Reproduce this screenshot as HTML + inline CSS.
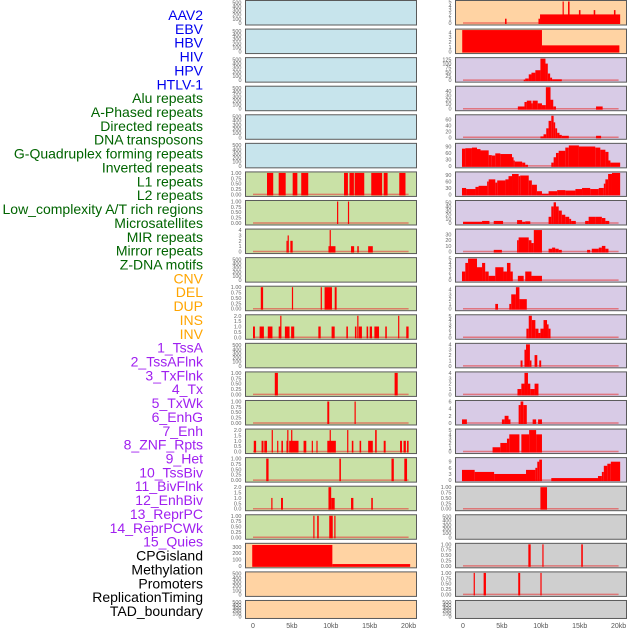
<!DOCTYPE html>
<html><head><meta charset="utf-8">
<style>
html,body{margin:0;padding:0;background:#fff;}
svg{display:block;font-family:"Liberation Sans",sans-serif;}
</style></head>
<body>
<svg id="chart" width="630" height="630" viewBox="0 0 630 630" xmlns="http://www.w3.org/2000/svg"></svg>
<script>
// ---- labels / categories ----
const trackNames = ["AAV2","EBV","HBV","HIV","HPV","HTLV-1","Alu repeats","A-Phased repeats","Directed repeats","DNA transposons","G-Quadruplex forming repeats","Inverted repeats","L1 repeats","L2 repeats","Low_complexity A/T rich regions","Microsatellites","MIR repeats","Mirror repeats","Z-DNA motifs","CNV","DEL","DUP","INS","INV","1_TssA","2_TssAFlnk","3_TxFlnk","4_Tx","5_TxWk","6_EnhG","7_Enh","8_ZNF_Rpts","9_Het","10_TssBiv","11_BivFlnk","12_EnhBiv","13_ReprPC","14_ReprPCWk","15_Quies","CPGisland","Methylation","Promoters","ReplicationTiming","TAD_boundary"];
const trackGroups = ["v","v","v","v","v","v","r","r","r","r","r","r","r","r","r","r","r","r","r","s","s","s","s","s","c","c","c","c","c","c","c","c","c","c","c","c","c","c","c","o","o","o","o","o"];
const xTickValues = [0,5,10,15,20];
const xTickLabels = ["0","5kb","10kb","15kb","20kb"];

// ---- series data (kb start, kb end, value) ----
const aluS=[1.8,3.3,5.1,6.2,11.7,12.4,13.06,15.2,16.8,18.8], aluE=[2.6,4.2,5.7,7.1,12.2,12.97,14.3,16.6,17.3,19.6], aluV=[1,1,1,1,1,1,1,1,1,1];
const aphS=[10.8,12.2], aphE=[10.95,12.35], aphV=[1,1];
const dirS=[4.3,4.45,4.8,9.7,9.85,12.6,13.4,14.8], dirE=[4.45,4.6,5.1,10.6,10.0,13.0,13.6,15.4], dirV=[2,3,2,1,4,1,1,1];
const gqS=[1.0,5.0,8.7,9.2,10.5], gqE=[1.3,5.15,8.8,10.15,10.75], gqV=[1,1,1,1,1];
const invrS=[0,0.85,1.9,3.3,3.5,4.1,4.9,8.4,10.1,12.0,13.1,13.4,13.6,14.6,15.0,15.6,17.0,18.65,19.7], invrE=[0.25,1.4,2.5,3.6,3.65,4.7,5.3,8.7,10.5,12.2,13.3,13.55,14.0,14.8,15.3,16.2,17.2,18.8,20.0], invrV=[1,1,1,1,2,1,1,1,1,1,1,2,1,1,1,1,1,2,1];
const l2S=[2.8,18.2], l2E=[3.2,18.6], l2V=[1,1];
const lowS=[9.55,13.05], lowE=[9.8,13.2], lowV=[1,1];
const micS=[0.1,1.1,1.45,2.4,3.1,3.65,4.3,4.4,4.65,4.9,6.5,7.55,8.15,9.55,9.85,12.1,12.7,13.7,14.8,15.7,16.8,18.9,19.35,19.8], micE=[0.4,1.35,1.8,2.5,3.2,3.85,4.5,4.5,5.85,5.05,6.85,7.7,8.3,10.65,9.95,12.25,12.9,13.9,15.4,15.9,17.05,19.15,19.65,20.0], micV=[1,1,1,2,1,1,1,2,1,2,1,1,1,1,2,2,1,1,1,2,1,1,1,1];
const mirS=[1.7,11.1,17.8,19.45], mirE=[2.0,11.3,18.1,19.8], mirV=[1,1,1,1];
const mrrS=[2.35,3.6,9.7,10.05,12.6,15.2], mrrE=[2.5,3.85,10.05,10.5,12.9,15.4], mrrV=[1,1,2,1,1,1];
const zdS=[7.75,8.25,9.8,10.45], zdE=[7.9,8.45,10.25,10.6], zdV=[1,1,1,1];
const cnvS=[-0.1,10.2], cnvE=[10.2,20.2], cnvV=[330,28];
const insS=[5.4,9.7,9.9,12.8,13.5,14.9,16.8,19.4], insE=[5.6,9.9,20.2,12.95,13.7,15.1,17.0,19.6], insV=[1,1,2,5,5,3,3,3];
const invS=[-0.1,10.15], invE=[10.15,20.1], invV=[4.5,1.3];
const tssaS=[7.8,8.0,8.45,8.8,9.3,9.95,10.6,10.9,11.2,11.45], tssaE=[8.0,8.45,8.8,9.3,9.95,10.6,10.9,11.2,11.45,12.7], tssaV=[3,10,35,45,60,130,100,40,15,5];
const tfS=[7.05,7.9,8.2,8.8,8.95,9.6,10.15,10.65,11.25,11.6,17.1], tfE=[7.9,8.2,8.8,8.95,9.6,10.15,10.65,11.25,11.6,11.95,17.95], tfV=[5,15,18,12,18,12,8,48,20,5,5];
const txfS=[9.95,10.35,10.7,11.0,11.35,11.65,11.85,12.1,12.4,12.7,17.1], txfE=[10.35,10.7,11.0,11.35,11.65,11.85,12.1,12.4,12.7,13.6,17.75], txfV=[3,10,30,55,72,50,30,15,8,5,5];
const txEdges=[-0.13,0.3,1.15,1.8,2.25,3.3,3.7,4.15,4.8,6.3,6.5,6.65,7.6,8.0,8.35,11.35,11.65,11.95,12.3,13.15,13.6,14.9,17.0,17.65,18.3,18.7,18.95,20.2];
const txV=[80,82,85,78,72,50,48,58,55,40,25,20,15,5,0,15,40,60,70,85,95,90,85,75,65,25,15];
const txwEdges=[-0.13,0.4,1.6,2.0,3.1,3.3,4.15,4.4,5.45,5.85,6.3,7.15,7.35,8.45,8.85,9.5,10.15,11.0,12.1,13.15,14.45,15.3,16.35,17.45,18.1,18.3,18.65,19.15,20.2];
const txwV=[30,25,35,40,60,70,55,65,70,85,95,85,88,65,45,15,3,15,20,18,25,30,25,30,50,70,95,100];
const egS=[0,2.45,3.95,6.95,7.6,8.0,11.0,11.35,11.65,11.95,12.3,12.7,13.15,13.65,13.9,15.7,16.15,17.0,17.85,18.3], egE=[2.45,3.4,5.15,7.6,8.0,8.65,11.35,11.65,11.95,12.3,12.7,13.15,13.65,13.9,14.5,16.15,17.0,17.85,18.3,18.8], egV=[3,5,5,7,3,4,15,40,50,40,30,20,15,10,5,5,15,15,12,5];
const enS=[3.95,6.95,7.15,8.45,8.8,9.1,11.0,11.45,11.85,12.3,15.95,16.55,17.45,17.85,18.3], enE=[5.0,7.15,8.45,8.8,9.1,10.15,11.45,11.85,12.3,12.7,16.35,17.45,17.85,18.3,18.7], enV=[3,20,25,20,15,38,5,7,5,3,3,5,7,10,5];
const znS=[-0.13,0.3,0.65,1.8,2.45,2.85,3.3,4.15,5.2,5.65,6.1,7.05,8.0,8.8], znE=[0.3,0.65,1.8,2.45,2.85,3.3,4.15,5.2,5.65,6.1,6.4,7.8,8.8,10.15], znV=[2,4,5,3,4,2,1,3,2,4,2,1,2,1];
const hetS=[4.15,5.95,6.2,6.8,7.25], hetE=[4.5,6.2,6.8,7.25,8.2], hetV=[1,1,3,4.5,2];
const tbS=[8.15,8.45,8.85,9.3,9.7,9.95,10.35,10.8,11.0], tbE=[8.45,8.85,9.3,9.7,9.95,10.35,10.8,11.0,11.25], tbV=[2,5,4,2,1,2,4,3,2];
const bfS=[7.4,7.9,8.1,8.6,9.2,9.8], bfE=[7.65,8.1,8.6,8.8,9.55,10.05], bfV=[1,3,4,1,2,1];
const ebS=[7.0,7.5,7.9,8.35,8.65,9.2], ebE=[7.5,7.9,8.35,8.65,9.2,9.7], ebV=[1,2,4,2,1,2];
const rpS=[-0.13,5.0,5.35,5.85,7.15,7.4,7.75,8.95,9.65], rpE=[0.5,5.35,5.85,6.1,7.4,7.75,8.2,9.4,10.15], rpV=[1,1,2,1,5,6,5,1,1];
const rwS=[3.8,4.8,5.65,5.95,7.5,8.5,9.4], rwE=[4.8,5.65,5.95,7.25,8.5,9.4,10.15], rwV=[1,2,3,4,4,5,4];
const qS=[-0.13,1.5,4.0,8.1,9.3,9.55,9.8,11.35,17.35,17.85,18.1,18.55,19.0], qE=[1.5,4.0,8.1,9.3,9.55,9.8,10.15,17.35,17.85,18.1,18.55,19.0,20.2], qV=[5,4,3,5,6,9,10,1,2,4,7,8,9];
const cpgS=[9.95], cpgE=[10.8], cpgV=[1];
const proS=[8.4,10.2,15.2], proE=[8.7,10.35,15.4], proV=[1,1,1];
const repS=[1.37,2.65,7.1,9.95], repE=[1.5,2.95,7.35,10.1], repV=[1,1,1,1];

// tick sets
const tEmpty=[0,100,200,300,400,500], t01=[0,0.25,0.5,0.75,1], t2=[0,0.5,1,1.5,2];
function edgesToSeg(ed,v){const s=[],e=[];for(let i=0;i<v.length;i++){s.push(ed[i]);e.push(ed[i+1]);}return [s,e,v];}

// panel specs: [ymax, ticks, tickLabels-format, segments or null]
const fmt2 = v=>v.toFixed(2), fmt1=v=>v.toFixed(1), fmt0=v=>String(v);
const panels = [
 [520,tEmpty,fmt0,null],[520,tEmpty,fmt0,null],[520,tEmpty,fmt0,null],[520,tEmpty,fmt0,null],[520,tEmpty,fmt0,null],[520,tEmpty,fmt0,null],
 [1,t01,fmt2,[aluS,aluE,aluV]],[1,t01,fmt2,[aphS,aphE,aphV]],[4,[0,1,2,3,4],fmt0,[dirS,dirE,dirV]],[520,tEmpty,fmt0,null],
 [1,t01,fmt2,[gqS,gqE,gqV]],[2,t2,fmt1,[invrS,invrE,invrV]],[520,tEmpty,fmt0,null],[1,t01,fmt2,[l2S,l2E,l2V]],
 [1,t01,fmt2,[lowS,lowE,lowV]],[2,t2,fmt1,[micS,micE,micV]],[1,t01,fmt2,[mirS,mirE,mirV]],[2,t2,fmt1,[mrrS,mrrE,mrrV]],
 [1,t01,fmt2,[zdS,zdE,zdV]],[340,[0,100,200,300],fmt0,[cnvS,cnvE,cnvV]],[520,tEmpty,fmt0,null],[520,tEmpty,fmt0,null],
 [5,[0,1,2,3,4,5],fmt0,[insS,insE,insV]],[4.5,[0,1,2,3,4],fmt0,[invS,invE,invV]],
 [130,[0,25,50,75,100,125],fmt0,[tssaS,tssaE,tssaV]],[48,[0,10,20,30,40],fmt0,[tfS,tfE,tfV]],
 [72,[0,20,40,60],fmt0,[txfS,txfE,txfV]],[100,[0,30,60,90],fmt0,edgesToSeg(txEdges,txV)],
 [100,[0,30,60,90],fmt0,edgesToSeg(txwEdges,txwV)],[52,[0,10,20,30,40,50],fmt0,[egS,egE,egV]],
 [38,[0,10,20,30],fmt0,[enS,enE,enV]],[5,[0,1,2,3,4,5],fmt0,[znS,znE,znV]],[4.5,[0,1,2,3,4],fmt0,[hetS,hetE,hetV]],
 [5,[0,1,2,3,4,5],fmt0,[tbS,tbE,tbV]],[4,[0,1,2,3,4],fmt0,[bfS,bfE,bfV]],[4,[0,1,2,3,4],fmt0,[ebS,ebE,ebV]],
 [6,[0,2,4,6],fmt0,[rpS,rpE,rpV]],[5,[0,1,2,3,4,5],fmt0,[rwS,rwE,rwV]],[10.5,[0,3,6,9],fmt0,[qS,qE,qV]],
 [1,t01,fmt2,[cpgS,cpgE,cpgV]],[520,tEmpty,fmt0,null],[1,t01,fmt2,[proS,proE,proV]],[1,t01,fmt2,[repS,repE,repV]],[520,tEmpty,fmt0,null]
];

const NS="http://www.w3.org/2000/svg";
const svg=document.getElementById('chart');
function mk(tag,attrs,parent){const el=document.createElementNS(NS,tag);for(const k in attrs)el.setAttribute(k,attrs[k]);(parent||svg).appendChild(el);return el;}
const labelColor={v:"#0000ee",r:"#006400",s:"#ffa500",c:"#a020f0",o:"#000000"};
const bgColor={v:"#c7e4ec",r:"#c9e1a6",s:"#ffd3a3",c:"#d8cbe6",o:"#d3d3d3"};

// left labels
trackNames.forEach((n,i)=>{
  const t=mk('text',{x:203,y:15+i*13.86+5,'text-anchor':'end','font-size':14,fill:labelColor[trackGroups[i]]});
  
  
  t.textContent=n;
});

const PW=171, PITCH=28.57;
panels.forEach((p,i)=>{
  const col=i<22?0:1, row=i%22;
  const px=col===0?245.5:455.5, py=row*PITCH+0.5;
  const ph=row===21?18:24.5;
  const ymax=p[0];
  const g=mk('g',{});
  
  
  const xs=kb=>px+7.5+kb*7.78;
  const y0=py+ph-2, yh=ph-3;
  const ys=v=>y0-v/ymax*yh;
  let fill=bgColor[trackGroups[i]];
  if(col===1 && (trackGroups[i]==='o')) fill="#cfcfcf";
  mk('rect',{x:px,y:py,width:PW,height:ph,fill:fill,stroke:"#5a5a5a",'stroke-width':1},g);
  if(p[3]){
    mk('line',{x1:xs(0),x2:xs(20),y1:y0,y2:y0,stroke:"rgba(230,60,60,0.6)",'stroke-width':1.5},g);
    const [S,E,V]=p[3];
    for(let k=0;k<S.length;k++){
      if(V[k]<=0)continue;
      const x1=Math.max(px+1,xs(S[k])), x2=Math.min(px+PW-1,xs(E[k]));
      const r=mk('rect',{x:x1,y:ys(V[k]),width:Math.max(1.2,x2-x1),height:y0-ys(V[k])+1,fill:"#ff0000"},g);
      
      
    }
  }
  p[1].forEach(tv=>{
    const t=mk('text',{x:px-4,y:ys(tv)+2,'text-anchor':'end','font-size':5.5,fill:"#666"},g);
    
    
    t.textContent=p[2](tv);
  });
});

// x axis labels
[245.5,455.5].forEach(px=>{
  xTickValues.forEach((v,k)=>{
    const t=mk('text',{x:px+7.5+v*7.78,y:628,'text-anchor':'middle','font-size':7,fill:"#555"});
    
    
    t.textContent=xTickLabels[k];
  });
});
</script>
</body></html>
